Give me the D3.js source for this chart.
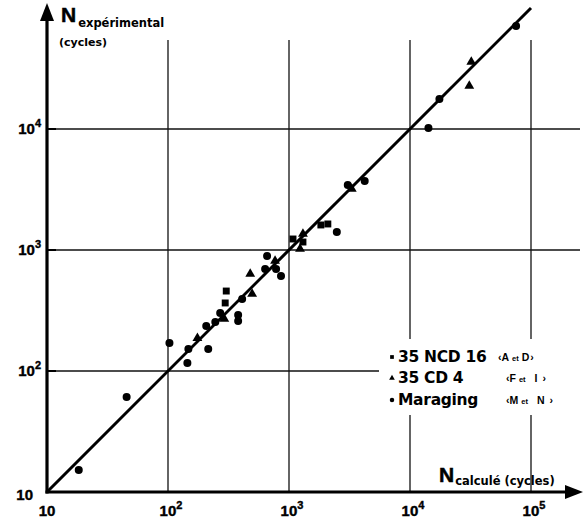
<!DOCTYPE html>
<html><head><meta charset="utf-8">
<script src="https://cdn.jsdelivr.net/npm/d3@7"></script>
<style>body{margin:0;background:#fff}svg{display:block}text{font-family:"Liberation Sans",Arial,sans-serif;font-weight:bold;fill:#000}.dv{font-family:"DejaVu Sans",sans-serif}</style>
</head><body><svg id="c" width="583" height="523"></svg>
<script>
// Data (N calculé, N expérimental), cycles
const ncdX = [297, 303, 1079, 1304, 1834, 2094];
const ncdY = [365, 458, 1233, 1164, 1610, 1641];
const cdX = [175, 292, 478, 496, 767, 1233, 1304, 3302, 30900, 32100];
const cdY = [187, 269, 634, 433, 811, 1019, 1356, 3192, 22700, 35800];
const marX = [18.3, 45.5, 102.8, 144.6, 147.4, 215, 207, 246, 270, 380, 380, 410, 659, 635, 782, 859, 2484, 3060, 4224, 14200, 17500, 75300];
const marY = [15.2, 61, 170, 116.4, 152, 152, 235, 254, 301, 290, 259, 394, 892, 697, 697, 610, 1409, 3444, 3716, 10190, 17700, 71000];
const xTicks = [10, 100, 1000, 10000, 100000];
const xTickLabels = ["10", "10|2", "10|3", "10|4", "10|5"];
const yTicks = [10, 100, 1000, 10000];
const yTickLabels = ["10", "10|2", "10|3", "10|4"];
const xGrid = [100, 1000, 10000, 100000];
const yGrid = [100, 1000, 10000];
const lineDomain = [10, 100000];
const legendNames = ["35 NCD 16", "35 CD 4", "Maraging"];
const legendCodes = [["A","D"], ["F","I"], ["M","N"]];

const svg = d3.select("#c");
const x = d3.scaleLog().domain([10, 1e5]).range([47, 531]);
const y = d3.scaleLog().domain([10, 1e5]).range([492, 8]);
const x0 = x(10), y0 = y(10);

// grid
svg.append("g").selectAll("line").data(yGrid).join("line")
  .attr("x1", x0).attr("x2", 580).attr("y1", d => y(d)).attr("y2", d => y(d))
  .attr("stroke", "#111").attr("stroke-width", 1.3);
svg.append("g").selectAll("line").data(xGrid).join("line")
  .attr("x1", d => x(d)).attr("x2", d => x(d)).attr("y1", 40).attr("y2", y0)
  .attr("stroke", "#111").attr("stroke-width", 1.3);

// diagonal y = x
svg.append("path").datum(lineDomain)
  .attr("d", d3.line().x(d => x(d)).y(d => y(d)))
  .attr("stroke", "#000").attr("stroke-width", 3).attr("fill", "none");

// legend background (breaks grid lines)
svg.append("rect").attr("x", 379).attr("y", 339).attr("width", 204).attr("height", 76).attr("fill", "#fff");

// axes
svg.append("line").attr("x1", x0).attr("x2", x0).attr("y1", y0 + 1.5).attr("y2", 16)
  .attr("stroke", "#000").attr("stroke-width", 3.2);
svg.append("line").attr("x1", x0 - 1.5).attr("x2", 570).attr("y1", y0).attr("y2", y0)
  .attr("stroke", "#000").attr("stroke-width", 3.2);
svg.append("path").attr("d", `M${x0},3 L${x0-7},21 L${x0+7},21 Z`).attr("fill", "#000");
svg.append("path").attr("d", `M583,${y0} L565,${y0-7} L565,${y0+7} Z`).attr("fill", "#000");
// y ticks
svg.append("g").selectAll("line").data(yTicks.slice(1)).join("line")
  .attr("x1", x0).attr("x2", x0 + 9).attr("y1", d => y(d)).attr("y2", d => y(d))
  .attr("stroke", "#000").attr("stroke-width", 2);

function label(g, str) {
  const [b, e] = str.split("|");
  g.append("tspan").text(b);
  if (e) g.append("tspan").attr("dy", -7).attr("font-size", 11).text(e);
}
svg.append("g").selectAll("text").data(xTicks).join("text")
  .attr("x", (d, i) => x(d) + (i ? 3 : 0)).attr("y", 516)
  .attr("text-anchor", "middle").attr("font-size", 15)
  .attr("stroke", "#000").attr("stroke-width", 0.4)
  .each(function (d, i) { label(d3.select(this), xTickLabels[i]); });
svg.append("g").selectAll("text").data(yTicks).join("text")
  .attr("x", (d, i) => i ? 41 : 33).attr("y", (d, i) => y(d) + (i ? 5 : 8))
  .attr("text-anchor", "end").attr("font-size", 15)
  .attr("stroke", "#000").attr("stroke-width", 0.4)
  .each(function (d, i) { label(d3.select(this), yTickLabels[i]); });

// axis titles
const ty = svg.append("text").attr("x", 61).attr("y", 22);
ty.append("tspan").attr("font-size", 21).attr("stroke", "#000").attr("stroke-width", 0.5).text("N");
ty.append("tspan").attr("class", "dv").attr("font-size", 11.5).attr("dy", 5).attr("dx", 2).text("expérimental");
svg.append("text").attr("class", "dv").attr("x", 59).attr("y", 46).attr("font-size", 11).text("(cycles)");
const tx = svg.append("text").attr("x", 439).attr("y", 482);
tx.append("tspan").attr("font-size", 21).attr("stroke", "#000").attr("stroke-width", 0.5).text("N");
tx.append("tspan").attr("class", "dv").attr("font-size", 11.5).attr("dy", 3).attr("dx", 1).text("calculé (cycles)");

// data marks
const sq = d3.symbol().type(d3.symbolSquare).size(48);
const tri = d3.symbol().type(d3.symbolTriangle).size(42);
const marks = svg.append("g");
marks.selectAll(".s").data(ncdX.map((v, i) => [v, ncdY[i]])).join("path").attr("class", "s")
  .attr("d", sq).attr("transform", d => `translate(${x(d[0])},${y(d[1])})`).attr("fill", "#000");
marks.selectAll(".t").data(cdX.map((v, i) => [v, cdY[i]])).join("path").attr("class", "t")
  .attr("d", tri).attr("transform", d => `translate(${x(d[0])},${y(d[1])})`).attr("fill", "#000");
marks.selectAll(".c").data(marX.map((v, i) => [v, marY[i]])).join("circle").attr("class", "c")
  .attr("cx", d => x(d[0])).attr("cy", d => y(d[1])).attr("r", 4).attr("fill", "#000");

// legend
const rowsY = [362, 383, 405];
const lg = svg.append("g");
const symSmall = [d3.symbol().type(d3.symbolSquare).size(14), d3.symbol().type(d3.symbolTriangle).size(14), d3.symbol().type(d3.symbolCircle).size(16)];
legendNames.forEach((n, i) => {
  lg.append("path").attr("d", symSmall[i]).attr("transform", `translate(392,${rowsY[i] - 5})`).attr("fill", "#000");
  lg.append("text").attr("class", "dv").attr("x", 398).attr("y", rowsY[i]).attr("font-size", 15.5)
    .attr("letter-spacing", -0.3).text(n);
  const t = lg.append("text").attr("x", i === 0 ? 498 : 506).attr("y", rowsY[i] - 1).attr("font-size", 10.5);
  t.append("tspan").text("‹" + legendCodes[i][0]);
  t.append("tspan").attr("font-size", 7.5).attr("dx", 3).text("et");
  t.append("tspan").attr("dx", i === 0 ? 3 : 9).text(legendCodes[i][1]);
  t.append("tspan").attr("dx", i === 0 ? 1 : 5).text("›");
});
</script></body></html>
